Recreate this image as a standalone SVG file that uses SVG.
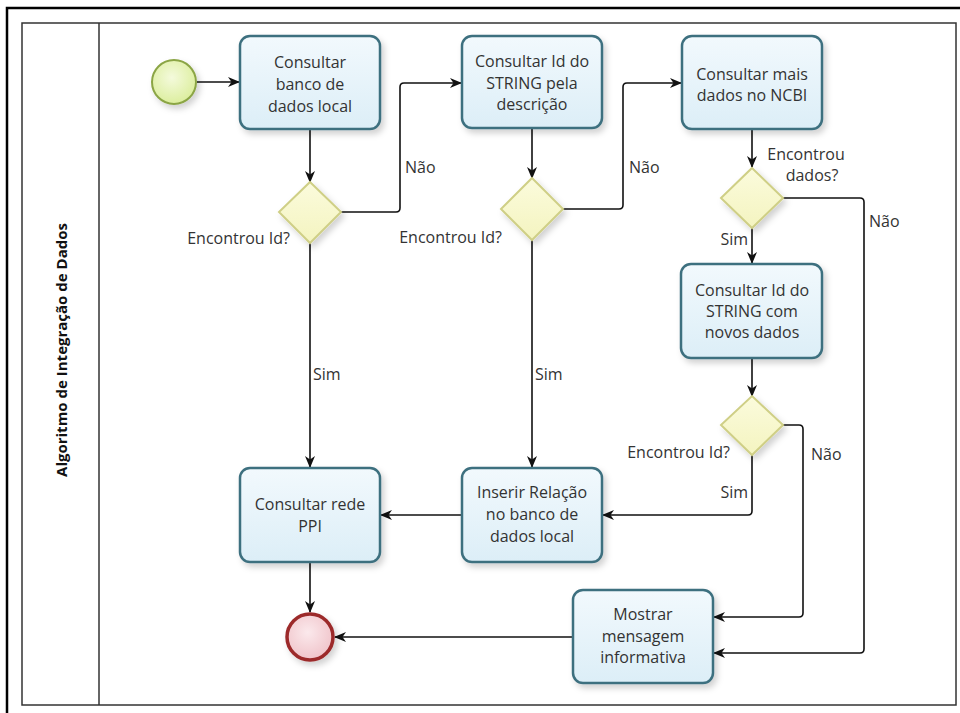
<svg xmlns="http://www.w3.org/2000/svg" width="960" height="713" viewBox="0 0 960 713">
<style>
  .task rect { fill: url(#taskFill); stroke: #3d6f7f; stroke-width: 2.5; filter: url(#shadow); }
  .gw polygon { fill: url(#gwFill); stroke: #cfcf86; stroke-width: 2; filter: url(#shadow); }
  .t { font-family: "Open Sans", "Noto Sans", "DejaVu Sans", sans-serif; font-size: 16px; fill: #333; text-anchor: middle; }
  .lbl { font-family: "Open Sans", "Noto Sans", "DejaVu Sans", sans-serif; font-size: 16px; fill: #333; }
  .conn path { fill: none; stroke: #111; stroke-width: 1.6; marker-end: url(#arrow); }
</style>
<defs>
  <linearGradient id="taskFill" x1="0" y1="0" x2="0" y2="1">
    <stop offset="0" stop-color="#f2f9fd"/>
    <stop offset="1" stop-color="#dceef7"/>
  </linearGradient>
  <linearGradient id="gwFill" x1="0" y1="0" x2="0" y2="1">
    <stop offset="0" stop-color="#fbfbdc"/>
    <stop offset="1" stop-color="#f4f4c0"/>
  </linearGradient>
  <radialGradient id="startFill" cx="0.45" cy="0.4" r="0.6">
    <stop offset="0" stop-color="#f4fadc"/>
    <stop offset="1" stop-color="#dcee9e"/>
  </radialGradient>
  <radialGradient id="endFill" cx="0.45" cy="0.4" r="0.6">
    <stop offset="0" stop-color="#fbe9ec"/>
    <stop offset="1" stop-color="#f0c4ca"/>
  </radialGradient>
  <filter id="shadow" x="-20%" y="-20%" width="150%" height="150%">
    <feDropShadow dx="3" dy="4" stdDeviation="3" flood-color="#000" flood-opacity="0.18"/>
  </filter>
  <marker id="arrow" viewBox="0 0 12 10" refX="11" refY="5" markerWidth="12" markerHeight="10" markerUnits="userSpaceOnUse" orient="auto">
    <path d="M0,0 L12,5 L0,10 L3.5,5 z" fill="#111"/>
  </marker>
</defs>

<rect x="0" y="0" width="960" height="713" fill="#fff"/>
<!-- outer frame -->
<rect x="7" y="8" width="960" height="720" fill="none" stroke="#000" stroke-width="2.5"/>
<!-- pool -->
<g id="pool">
  <rect x="22" y="23" width="934" height="682" fill="none" stroke="#333" stroke-width="1.5"/>
  <line x1="99" y1="23" x2="99" y2="705" stroke="#333" stroke-width="1.5"/>
  <text transform="translate(67,350) rotate(-90)" font-family="Open Sans, Noto Sans, DejaVu Sans, sans-serif" font-size="15" font-weight="bold" fill="#111" text-anchor="middle">Algoritmo de Integração de Dados</text>
</g>

<g id="connectors" class="conn">
  <path d="M197,82 H239"/>
  <path d="M310,129 V182"/>
  <path d="M341,212 H396 Q400,212 400,208 V87 Q400,83 404,83 H461"/>
  <path d="M532,128 V178"/>
  <path d="M563,209 H619 Q623,209 623,205 V87 Q623,83 627,83 H681"/>
  <path d="M752,129 V167"/>
  <path d="M752,228 V263"/>
  <path d="M783,198 H860 Q864,198 864,202 V649 Q864,653 860,653 H714"/>
  <path d="M752,358 V396"/>
  <path d="M783,425 H799 Q803,425 803,429 V613 Q803,617 799,617 H714"/>
  <path d="M752,455 V511 Q752,515 748,515 H603"/>
  <path d="M310,243 V467"/>
  <path d="M532,240 V467"/>
  <path d="M462,515 H381"/>
  <path d="M310,562 V612"/>
  <path d="M573,637 H335"/>
</g>

<g id="labels">
  <text class="lbl" x="405" y="173">Não</text>
  <text class="lbl" x="629" y="173">Não</text>
  <text class="lbl" x="290" y="244" text-anchor="end">Encontrou Id?</text>
  <text class="lbl" x="502" y="243" text-anchor="end">Encontrou Id?</text>
  <text class="lbl" x="806" y="160" text-anchor="middle">Encontrou</text>
  <text class="lbl" x="812" y="181" text-anchor="middle">dados?</text>
  <text class="lbl" x="869" y="227">Não</text>
  <text class="lbl" x="748" y="245" text-anchor="end">Sim</text>
  <text class="lbl" x="730" y="458" text-anchor="end">Encontrou Id?</text>
  <text class="lbl" x="811" y="460">Não</text>
  <text class="lbl" x="748" y="498" text-anchor="end">Sim</text>
  <text class="lbl" x="313" y="380">Sim</text>
  <text class="lbl" x="535" y="380">Sim</text>
</g>

<g id="start">
  <circle cx="174" cy="82" r="22" fill="url(#startFill)" stroke="#8ba545" stroke-width="2" filter="url(#shadow)"/>
</g>
<g id="end">
  <circle cx="310" cy="637" r="23" fill="url(#endFill)" stroke="#9c2a2c" stroke-width="3.5" filter="url(#shadow)"/>
</g>

<g id="task1" class="task">
  <rect x="240" y="36" width="140" height="93" rx="10"/>
  <text class="t" x="310" y="68">Consultar</text>
  <text class="t" x="310" y="90">banco de</text>
  <text class="t" x="310" y="112">dados local</text>
</g>
<g id="task2" class="task">
  <rect x="462" y="36" width="140" height="92" rx="10"/>
  <text class="t" x="532" y="67">Consultar Id do</text>
  <text class="t" x="532" y="89">STRING pela</text>
  <text class="t" x="532" y="110">descrição</text>
</g>
<g id="task3" class="task">
  <rect x="682" y="36" width="140" height="93" rx="10"/>
  <text class="t" x="752" y="80">Consultar mais</text>
  <text class="t" x="752" y="101">dados no NCBI</text>
</g>
<g id="task4" class="task">
  <rect x="681" y="264" width="141" height="94" rx="10"/>
  <text class="t" x="752" y="296">Consultar Id do</text>
  <text class="t" x="752" y="317">STRING com</text>
  <text class="t" x="752" y="338">novos dados</text>
</g>
<g id="task5" class="task">
  <rect x="462" y="468" width="140" height="94" rx="10"/>
  <text class="t" x="532" y="498">Inserir Relação</text>
  <text class="t" x="532" y="520">no banco de</text>
  <text class="t" x="532" y="542">dados local</text>
</g>
<g id="task6" class="task">
  <rect x="240" y="468" width="140" height="94" rx="10"/>
  <text class="t" x="310" y="510">Consultar rede</text>
  <text class="t" x="310" y="532">PPI</text>
</g>
<g id="task7" class="task">
  <rect x="573" y="590" width="140" height="93" rx="10"/>
  <text class="t" x="643" y="620">Mostrar</text>
  <text class="t" x="643" y="642">mensagem</text>
  <text class="t" x="643" y="663">informativa</text>
</g>

<g id="gw1" class="gw"><polygon points="310,182 341,212 310,243 279,212"/></g>
<g id="gw2" class="gw"><polygon points="532,178 563,209 532,240 501,209"/></g>
<g id="gw3" class="gw"><polygon points="752,168 783,198 752,228 721,198"/></g>
<g id="gw4" class="gw"><polygon points="752,396 783,425 752,455 721,425"/></g>
</svg>
